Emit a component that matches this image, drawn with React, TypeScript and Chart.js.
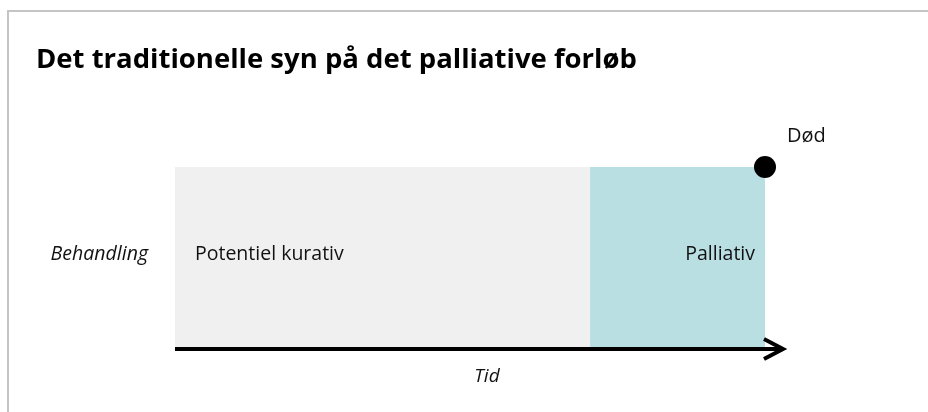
import React, { useEffect, useRef } from "react";
import { Chart, registerables } from "chart.js";

Chart.register(...registerables);

const titleText = "Det traditionelle syn på det palliative forløb";
const categories = ["Behandling"];
const phaseLabels = ["Potentiel kurativ", "Palliativ"];
const phaseDurations = [70.3, 29.7];
const deathLabel = "Død";
const deathPoint = [{ x: 100, y: 1 }];
const axisTitle = "Tid";

const FONT = "'Open Sans', 'Noto Sans', sans-serif";

export default function App() {
  const ref = useRef<HTMLCanvasElement | null>(null);

  useEffect(() => {
    if (!ref.current) return;
    let start = 0;
    const floating = phaseDurations.map((d) => {
      const seg = [start, start + d];
      start += d;
      return seg;
    });
    const phaseColors = ["#f0f0f0", "#badfe2"];

    const labelPlugin = {
      id: "labels",
      afterDatasetsDraw(chart: any) {
        const ctx = chart.ctx;
        ctx.save();
        ctx.fillStyle = "#111";
        ctx.font = `19.5px ${FONT}`;
        ctx.textBaseline = "middle";
        phaseLabels.forEach((lab, i) => {
          const el = chart.getDatasetMeta(i).data[0] as any;
          if (!el) return;
          const left = Math.min(el.x, el.base);
          const right = Math.max(el.x, el.base);
          if (i === 0) {
            ctx.textAlign = "left";
            ctx.fillText(lab, left + 20, el.y - 4);
          } else {
            ctx.textAlign = "right";
            ctx.fillText(lab, right - 10, el.y - 4);
          }
        });
        const dot = chart.getDatasetMeta(2).data[0] as any;
        if (dot) {
          ctx.textAlign = "left";
          ctx.font = `20px ${FONT}`;
          ctx.fillText(deathLabel, dot.x + 22, dot.y - 31);
        }
        // arrow along time axis
        const a = chart.chartArea;
        const y = a.bottom;
        const tip = a.right + 18;
        ctx.strokeStyle = "#000";
        ctx.lineWidth = 4;
        ctx.lineCap = "butt";
        ctx.beginPath();
        ctx.moveTo(a.left, y);
        ctx.lineTo(tip - 2, y);
        ctx.stroke();
        ctx.lineJoin = "miter";
        ctx.beginPath();
        ctx.moveTo(tip - 19, y - 10);
        ctx.lineTo(tip, y);
        ctx.lineTo(tip - 19, y + 10);
        ctx.stroke();
        // time axis title
        ctx.font = `italic 19px ${FONT}`;
        ctx.textAlign = "center";
        ctx.fillText(axisTitle, (a.left + a.right) / 2 + 17, y + 28);
        ctx.restore();
      },
    };

    const chart = new Chart(ref.current, {
      type: "bar",
      data: {
        labels: categories,
        datasets: [
          ...phaseLabels.map((lab, i) => ({
            type: "bar" as const,
            label: lab,
            data: [floating[i]],
            backgroundColor: phaseColors[i],
            borderWidth: 0,
            grouped: false,
            barPercentage: 1,
            categoryPercentage: 1,
            xAxisID: "x",
            yAxisID: "y",
            order: 1,
          })),
          {
            type: "scatter" as const,
            label: deathLabel,
            data: deathPoint,
            indexAxis: "x",
            xAxisID: "x",
            yAxisID: "yDot",
            pointRadius: 11,
            pointHoverRadius: 11,
            pointBackgroundColor: "#000",
            pointBorderWidth: 0,
            showLine: false,
            clip: false,
            order: -1,
          } as any,
        ],
      },
      options: {
        indexAxis: "y",
        animation: false,
        responsive: false,
        events: [],
        layout: { padding: { left: 36, right: 163, top: 0, bottom: 63 } },
        plugins: {
          legend: { display: false },
          tooltip: { enabled: false },
          title: {
            display: true,
            text: titleText,
            align: "start",
            color: "#000",
            font: { family: FONT, size: 27.5, weight: "bold" },
            padding: { top: 43.5, bottom: 90.5 },
          },
        },
        scales: {
          x: {
            type: "linear",
            min: 0,
            max: 100,
            grid: { display: false, drawTicks: false },
            border: { display: false },
            ticks: { display: false },
            title: { display: false },
          },
          y: {
            type: "category",
            offset: true,
            grid: { display: false, drawTicks: false },
            border: { display: false },
            ticks: {
              color: "#111",
              font: { family: FONT, size: 19.5, style: "italic" },
              padding: 27,
              labelOffset: -4,
            },
            afterFit(scale: any) {
              scale.width = 139;
            },
          },
          yDot: {
            type: "linear",
            axis: "y",
            min: 0,
            max: 1,
            offset: false,
            display: false,
          },
        },
      } as any,
      plugins: [labelPlugin],
    });
    return () => chart.destroy();
  }, []);

  return (
    <div
      style={{
        position: "fixed",
        left: 0,
        top: 0,
        width: 928,
        height: 412,
        background: "#fff",
        overflow: "hidden",
      }}
    >
      <div
        style={{
          position: "absolute",
          left: 7,
          top: 10,
          width: 940,
          height: 420,
          borderTop: "2px solid #c4c4c4",
          borderLeft: "2px solid #c4c4c4",
        }}
      />
      <canvas
        ref={ref}
        width={928}
        height={412}
        style={{ position: "absolute", left: 0, top: 0, width: 928, height: 412 }}
      />
    </div>
  );
}
